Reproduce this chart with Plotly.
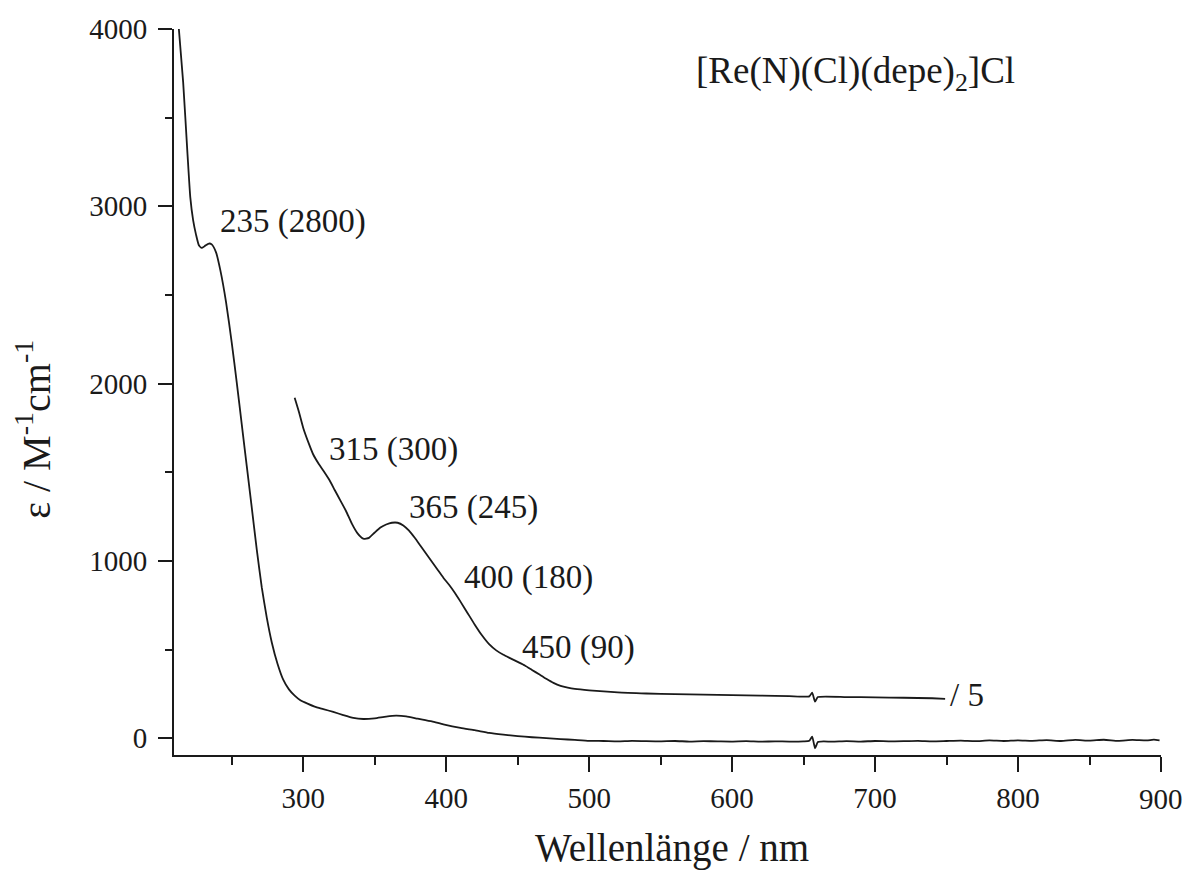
import plotly.graph_objects as go

# Main spectrum (wavelength nm, epsilon)
wl_main = [213, 216, 219, 221, 223, 225, 227, 229, 231, 234, 236, 239, 242, 246, 250,
           253.5, 257, 260.5, 264, 267.5, 271, 274.5, 278, 282, 286, 290, 294, 298, 303,
           308, 314, 321, 328, 335, 342, 350, 358, 365, 372, 380, 390, 398, 410, 420, 430,
           440, 450, 460, 470, 480, 490, 500, 510, 520, 530, 540, 550, 560, 570, 580, 590,
           600, 610, 620, 630, 640, 650, 654, 656, 658, 660, 664, 670, 680, 690, 700, 710,
           720, 730, 740, 750, 760, 770, 780, 790, 800, 810, 820, 830, 840, 850, 860, 870,
           880, 890, 895, 899]
eps_main = [4000, 3700, 3300, 3050, 2920, 2840, 2780, 2765, 2775, 2790, 2785, 2740, 2640, 2460, 2230,
            2006, 1770, 1534, 1300, 1064, 850, 680, 540, 420, 330, 275, 240, 214, 195,
            178, 164, 148, 130, 114, 108, 112, 122, 127, 123, 110, 94, 78, 58, 45, 30,
            20, 12, 5, 0, -5, -10, -15, -16, -18, -15, -17, -18, -16, -19, -17, -18,
            -19, -17, -20, -18, -19, -18, -15, 9, -57, -22, -18, -20, -17, -19, -16, -18,
            -17, -15, -18, -16, -14, -17, -13, -16, -12, -15, -11, -16, -10, -14, -9, -15,
            -10, -13, -8, -12]

# Upper spectrum (shown scaled, labelled "/ 5")
wl_up = [294, 297, 300, 304, 307, 311, 314, 318, 322, 326, 330, 334, 338, 342, 346, 350,
         354, 358, 362, 366, 370, 374, 378, 382, 386, 390, 394, 398, 402, 406, 410, 415,
         420, 425, 430, 435, 440, 445, 450, 455, 460, 465, 470, 475, 480, 485, 490, 500,
         520, 540, 560, 580, 600, 620, 640, 654, 656, 658, 660, 680, 700, 720, 740, 749]
eps_up = [1920, 1840, 1750, 1660, 1600, 1545, 1510, 1460, 1400, 1340, 1280, 1210, 1155, 1125, 1130, 1160,
          1188, 1205, 1215, 1215, 1200, 1170, 1130, 1085, 1040, 995, 950, 905, 865, 820, 770, 705,
          640, 580, 530, 495, 470, 450, 430, 410, 385, 360, 335, 312, 295, 285, 278, 270,
          258, 252, 248, 245, 243, 240, 237, 236, 257, 206, 232, 232, 230, 228, 225, 222]

# Axis ticks
x_ticks = [300, 400, 500, 600, 700, 800, 900]
x_minor = [250, 350, 450, 550, 650, 750, 850]
y_ticks = [0, 1000, 2000, 3000, 4000]
y_minor = [500, 1500, 2500, 3500]

peak_labels = ["235 (2800)", "315 (300)", "365 (245)", "400 (180)", "450 (90)"]
peak_label_x = [240.3, 316.4, 372.3, 411, 451.5]
peak_label_y = [2917, 1629, 1301, 906, 510]

compound = "[Re(N)(Cl)(depe)<sub>2</sub>]Cl"
x_title = "Wellenlänge / nm"
y_title = "ε / M<sup>-1</sup>cm<sup>-1</sup>"
scale_label = "/ 5"

FONT = "Liberation Serif, Times New Roman, serif"
INK = "#1a1a1a"

fig = go.Figure()
fig.add_trace(go.Scatter(x=wl_main, y=eps_main, mode="lines",
                         line=dict(color=INK, width=1.8, shape="spline", smoothing=0.5),
                         showlegend=False))
fig.add_trace(go.Scatter(x=wl_up, y=eps_up, mode="lines",
                         line=dict(color=INK, width=1.8, shape="spline", smoothing=0.5),
                         showlegend=False))

for t, x, y in zip(peak_labels, peak_label_x, peak_label_y):
    fig.add_annotation(x=x, y=y, text=t, showarrow=False, xanchor="left", yanchor="middle",
                       font=dict(family=FONT, size=33, color=INK))

fig.add_annotation(x=573.2, y=3747, text=compound, showarrow=False, xanchor="left",
                   yanchor="middle", font=dict(family=FONT, size=37, color=INK))
fig.add_annotation(x=750.8, y=245, text=scale_label, showarrow=False, xanchor="left",
                   yanchor="middle", font=dict(family=FONT, size=33, color=INK))
fig.add_annotation(xref="paper", yref="paper", x=0.5046, y=-0.128, text=x_title,
                   showarrow=False, xanchor="center", yanchor="middle",
                   font=dict(family=FONT, size=39, color=INK))
fig.add_annotation(xref="paper", yref="paper", x=-0.1418, y=0.448, text=y_title,
                   showarrow=False, xanchor="center", yanchor="middle", textangle=-90,
                   font=dict(family=FONT, size=40, color=INK))
# last x tick label sits at the very edge of the page; draw it as an annotation
fig.add_annotation(x=x_ticks[-1], xref="x", yref="paper", y=-0.0603, text=str(x_ticks[-1]),
                   showarrow=False, xanchor="center", yanchor="middle",
                   font=dict(family=FONT, size=29, color=INK))

fig.update_layout(
    width=1183, height=872, autosize=False,
    margin=dict(l=174, r=22, t=29, b=117, pad=0),
    paper_bgcolor="white", plot_bgcolor="white",
    font=dict(family=FONT, color=INK),
)
fig.update_xaxes(range=[209.6, 900], showgrid=False, zeroline=False, automargin=False,
                 showline=True, linewidth=2, linecolor=INK,
                 ticks="outside", ticklen=15, tickwidth=2, tickcolor=INK,
                 tickvals=x_ticks, ticktext=[str(v) for v in x_ticks[:-1]] + [""],
                 tickfont=dict(family=FONT, size=29, color=INK),
                 ticklabelstandoff=1,
                 minor=dict(ticks="outside", ticklen=8, tickwidth=2, tickcolor=INK,
                            tickvals=x_minor))
fig.update_yaxes(range=[-95, 4000], showgrid=False, zeroline=False, automargin=False,
                 showline=True, linewidth=2, linecolor=INK,
                 ticks="outside", ticklen=14, tickwidth=2, tickcolor=INK,
                 tickvals=y_ticks,
                 tickfont=dict(family=FONT, size=29, color=INK),
                 ticklabelstandoff=5,
                 minor=dict(ticks="outside", ticklen=7, tickwidth=2, tickcolor=INK,
                            tickvals=y_minor))

fig.write_html("out.html",
               post_script=("document.documentElement.style.overflow='hidden';"
                            "document.body.style.margin='0';document.body.style.overflow='hidden';"
                            "document.querySelectorAll('.modebar-container').forEach(function(e){e.style.display='none';});"))
